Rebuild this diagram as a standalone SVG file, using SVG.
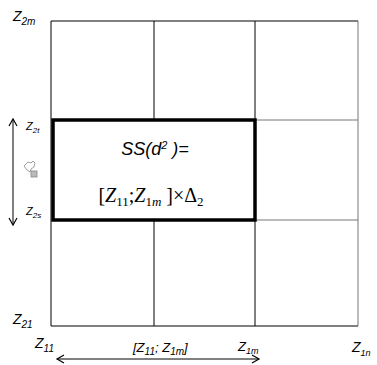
<svg xmlns="http://www.w3.org/2000/svg" width="377" height="365" viewBox="0 0 377 365">
<defs>
<marker id="ah" markerWidth="10" markerHeight="10" refX="8" refY="5" orient="auto-start-reverse" markerUnits="userSpaceOnUse">
<path d="M1,1 L8,5 L1,9" fill="none" stroke="#000" stroke-width="1.2"/>
</marker>
<style>
.lbl{font-family:"Liberation Sans",Arial,sans-serif;font-style:italic;fill:#000}
.ser{font-family:"Liberation Serif","Times New Roman",serif;fill:#000}
.g{fill:none;stroke:#000;stroke-width:1}
</style>
</defs>
<rect width="377" height="365" fill="#fff"/>
<g id="grid">
<line class="g" x1="51" y1="21" x2="358" y2="21" stroke="#333"/>
<line class="g" x1="51" y1="326" x2="358" y2="326"/>
<line class="g" x1="51" y1="21" x2="51" y2="326"/>
<line class="g" x1="358" y1="21" x2="358" y2="326" style="stroke:#777"/>
<line class="g" x1="154" y1="21" x2="154" y2="326"/>
<line class="g" x1="255" y1="21" x2="255" y2="326"/>
<line class="g" x1="51" y1="120" x2="358" y2="120" style="stroke:#777"/>
<line class="g" x1="51" y1="220" x2="358" y2="220" style="stroke:#777"/>
</g>
<g id="box">
<rect x="53" y="120" width="202" height="100" fill="#fff" stroke="#000" stroke-width="3.5"/>
<text class="lbl" x="155" y="155" font-size="18" text-anchor="middle">SS(d<tspan font-size="11" dy="-6">2</tspan><tspan dy="6"> )=</tspan></text>
<text class="ser" x="151" y="202" font-size="20" text-anchor="middle">[<tspan font-style="italic">Z</tspan><tspan font-size="13" dy="4">11</tspan><tspan dy="-4">;</tspan><tspan font-style="italic">Z</tspan><tspan font-size="13" dy="4">1<tspan font-style="italic">m</tspan></tspan><tspan dy="-4"> ]×Δ</tspan><tspan font-size="13" dy="4">2</tspan></text>
</g>
<g id="labels">
<text class="lbl" x="13" y="21" font-size="14">Z<tspan font-size="10" dy="4">2m</tspan></text>
<text class="lbl" x="26" y="130" font-size="11">Z<tspan font-size="8" dy="3">2t</tspan></text>
<text class="lbl" x="26" y="215" font-size="11">Z<tspan font-size="8" dy="3">2s</tspan></text>
<text class="lbl" x="13" y="324" font-size="14">Z<tspan font-size="10" dy="4">21</tspan></text>
<text class="lbl" x="35" y="348" font-size="14">Z<tspan font-size="10" dy="4">11</tspan></text>
<text class="lbl" x="133" y="352" font-size="13">[Z<tspan font-size="10" dy="3">11</tspan><tspan dy="-3">; Z</tspan><tspan font-size="10" dy="3">1m</tspan><tspan dy="-3">]</tspan></text>
<text class="lbl" x="238" y="351" font-size="13">Z<tspan font-size="9" dy="3">1m</tspan></text>
<text class="lbl" x="352" y="352" font-size="14">Z<tspan font-size="9" dy="4">1n</tspan></text>
</g>
<g id="icon" fill="none" stroke="#888" stroke-width="0.8">
<path d="M24,166 L28,162 L31,163 L33,161 L35,163 L34,167 L31,169 L30,172 L27,170 Z"/>
<rect x="31" y="171" width="6" height="6" fill="#bbb"/>
</g>
<g id="connectors">
<line x1="13" y1="119" x2="13" y2="225" stroke="#000" stroke-width="1" marker-start="url(#ah)" marker-end="url(#ah)"/>
<line x1="57" y1="359" x2="259" y2="359" stroke="#000" stroke-width="1" marker-start="url(#ah)" marker-end="url(#ah)"/>
</g>
</svg>
